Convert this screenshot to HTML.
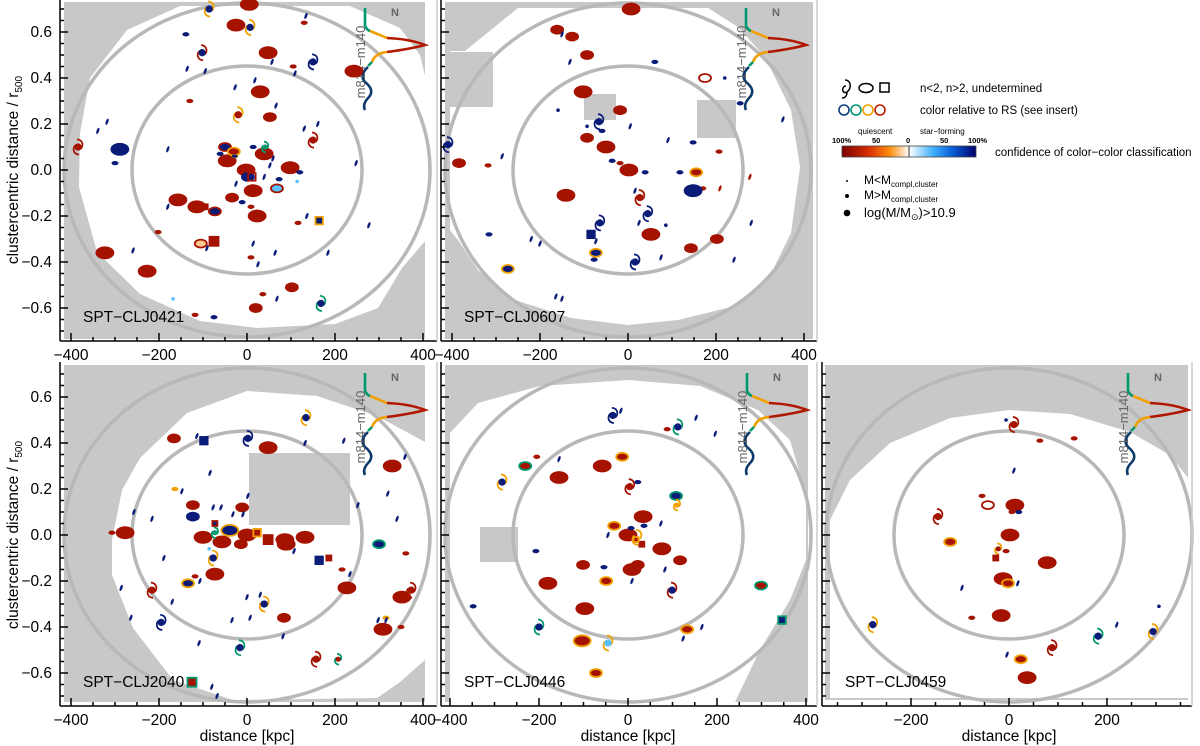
<!DOCTYPE html>
<html><head><meta charset="utf-8"><style>
html,body{margin:0;padding:0;background:#fff;}
svg{display:block;font-family:"Liberation Sans",sans-serif;}
</style></head><body>
<svg id="fig" width="1200" height="746" viewBox="0 0 1200 746" xmlns="http://www.w3.org/2000/svg">
<defs>
<linearGradient id="cbar" x1="0" x2="1" y1="0" y2="0">
<stop offset="0" stop-color="#7a0000"/><stop offset="0.2" stop-color="#d83000"/><stop offset="0.36" stop-color="#ff9010"/><stop offset="0.5" stop-color="#ffffff"/>
<stop offset="0.5" stop-color="#ffffff"/><stop offset="0.68" stop-color="#40b0ff"/><stop offset="0.82" stop-color="#0a60d8"/><stop offset="1" stop-color="#00006a"/>
</linearGradient>
</defs>
<g id="panels"></g>
<g id="legend">
  <path d="M845,80 C851,80 852,88 847,92 C842,95 841,86 846,86 M847,92 C847,96 845,98 842,98" fill="none" stroke="#000" stroke-width="1.5"/>
  <ellipse cx="866" cy="88" rx="7" ry="4.5" fill="none" stroke="#000" stroke-width="1.5"/>
  <rect x="880" y="83" width="9" height="9" fill="none" stroke="#000" stroke-width="1.5"/>
  <text x="920" y="92" font-size="11.5">n&lt;2, n&gt;2, undetermined</text>
  <circle cx="844" cy="110" r="5" fill="none" stroke="#0c3f78" stroke-width="1.6"/>
  <circle cx="856" cy="110" r="5" fill="none" stroke="#00986e" stroke-width="1.6"/>
  <circle cx="868" cy="110" r="5" fill="none" stroke="#f0a000" stroke-width="1.6"/>
  <circle cx="880" cy="110" r="5" fill="none" stroke="#c01800" stroke-width="1.6"/>
  <text x="920" y="114" font-size="11.5">color relative to RS (see insert)</text>
  <text x="858" y="134" font-size="8">quiescent</text>
  <text x="920" y="134" font-size="8">star−forming</text>
  <text x="832" y="143" font-size="7.5" font-weight="bold">100%</text>
  <text x="872" y="143" font-size="7.5" font-weight="bold">50</text>
  <text x="906" y="143" font-size="7.5" font-weight="bold">0</text>
  <text x="940" y="143" font-size="7.5" font-weight="bold">50</text>
  <text x="968" y="143" font-size="7.5" font-weight="bold">100%</text>
  <rect x="842" y="146" width="134" height="11" fill="url(#cbar)" stroke="#444" stroke-width="0.8"/>
  <line x1="909" y1="146" x2="909" y2="157" stroke="#333" stroke-width="1"/>
  <text x="995" y="156" font-size="11.5">confidence of color−color classification</text>
  <circle cx="847" cy="181" r="1" fill="#000"/>
  <text x="864" y="184" font-size="12">M&lt;M<tspan font-size="8" dy="3">compl,cluster</tspan></text>
  <circle cx="847" cy="196" r="2" fill="#000"/>
  <text x="864" y="199" font-size="12">M&gt;M<tspan font-size="8" dy="3">compl,cluster</tspan></text>
  <circle cx="847" cy="213" r="3.3" fill="#000"/>
  <text x="864" y="217" font-size="13">log(M/M<tspan font-size="9" dy="3">⊙</tspan><tspan dy="-3">)&gt;10.9</tspan></text>
</g>
</svg>
<script>
// ---------- data (kpc, r500) ----------
const p1X = [5,-25,48,243,30,39,-45,98,-2,14,-157,-114,23,-323,-227, -289, 52,-34,102,20, -73,-50,2,-30,-28,68,-105, 130,-130,-202,9,9,36,-118,116,105, -300,14,-61,120,73,-11,-75,-139, 114,-168, 134,-136,-95,57,109,-27,18,66,-318,-339,-180,130,161,59,52,39,-25,248,-180,136,277,14,-91,-259,64,25,184,68, -86,7,-102,150,-20,150,-384,168,41, -75,164,-95,11];
const p1Y = [.72,.63,.51,.43,.34,.07,.04,.01,0,-.09,-.13,-.16,-.2,-.36,-.44, .09, .23,-.12,-.51,-.6, -.18,.10,-.03,.08,.06,-.08,-.32, .64,.30,-.27,-.16,-.38,-.54,-.63,-.23,.45, .03,.1,.07,-.01,-.04,-.14,-.64,.59, -.05,-.56, .67,.44,.43,.47,.42,.36,.39,.28,.21,.17,.09,.18,.2,.05,.02,-.03,-.06,.03,-.16,-.2,-.24,-.32,-.34,-.35,-.36,-.41,-.36,-.56, .70,.62,.51,.47,.24,.13,.10,-.58,.1, -.31,-.22,-.16,-.03];
const p1K = [].concat(rep(15,'eL r r'),['eL n n'],rep(4,'eM r r'),['eM n r','eM n r','eM n n','eM r o','eS n o','eM b r','eM p r'],rep(9,'eS r r'),rep(8,'eS n n'),rep(2,'o b b'),rep(28,'d n n'),['sL n o','sL n o','sL n r','sL n n','sL r o','sL r r','sL r r','sL n g','sS g g','qL r r','qM n o','qS r r','qM w r']);

const p2X = [7,-102,-50,2,-141,52,-384, -161,-127,-93,-18,-93,143,202, -318,-18,207,170, 175, 155,-73,-273, 148, -409,-66,45,-64,16,27, -84, 61,-59,-36,39,118,148,-316,255,-77, 220,-159,-93,86, -150,-132,-286,5,91,16,25,-73,-220,-200,75,241,280,352,-164,-150, 277,209];
const p2Y = [.70,.34,.10,0,-.11,-.28,.03, .61,.58,.50,.26,.14,-.34,-.30, .02,.03,.08,-.08, .40, -.01,-.36,-.43, -.09, .11,.21,-.19,-.23,-.40,-.12, -.28, .47,.17,.04,-.01,-.01,.12,-.28,.29,-.39, .40,.26,.19,-.24, .59,.47,.06,.19,.13,-.09,-.23,-.31,-.30,-.32,-.38,-.39,-.23,.22,-.55,-.56, -.03,-.08];
const p2K = [].concat(rep(6,'eL r r'),['eM r r'],rep(7,'eM r r'),rep(4,'eS r r'),['eM w r','eM r o','eM n o','eM n o','eL n n'],rep(5,'sL n n'),['sL r r','qM n n'],rep(9,'eS n n'),rep(4,'o n n'),rep(16,'d n n'),['d r r','d r r']);

const p3X = [-166,48,330,-123,-11,-277,-100,-57,0,-14,86,132,89,-73,227,352,84,309, -123,-39,-134,300, -307,-118,361,216,350,-164,316, 134,2,-73,-77,-216,39,-195,-16,157,207,373, -98,-73,23,48,164,186,-125, -114,-84,220,132,359,320,252,341,-148,2,-77,-59,-32,-9,-257,-216,-189,107,234,-107,-286,-170,0,30,-264,-34,7,298,316,82,-109,-80,-68, -86];
const p3Y = [.42,.38,.30,.13,.12,.01,-.01,-.03,0,-.04,-.02,-.01,-.04,-.17,-.23,-.27,-.36,-.41, .08,.02,-.21,-.04, .01,-.18,-.08,-.15,-.4,.2,-.36, .51,.42,.01,-.1,-.24,-.3,-.38,-.49,-.54,-.54,-.24, .41,.05,.01,-.02,-.11,-.1,-.64, .43,.27,.41,.4,.34,.18,.13,.07,.19,.17,.12,.12,.09,.09,.1,.07,-.1,-.07,-.17,-.2,-.23,-.29,-.27,-.26,-.36,-.37,-.36,-.37,-.37,-.44,-.47,-.66,-.7, -.06];
const p3K = [].concat(['eM r r','eL r r','eL r r','eM r r','eM r r','eL r r','eL r r','eL r r','eL r r','eM r r','eL r r','eL r r','eL r r','eL r r','eL r r','eL r r','eM r r','eL r r'],['eM n n','eL n o','eM n o','eM n g'],rep(5,'eS r r'),['eS o o','eS o o'],['sL n o','sL n n','sS g g','sL n o','sL r r','sL n o','sL n n','sL n g','sL r r','sS r g','sL r r'],['qM n n','qS n r','qM r o','qL r r','qM n n','qS r r','qL r g'],rep(33,'d n n'),['o b b']);

const p4X = [-58,-155,34,0,76,9,-180,-97, 117,-101,22, -13,-31,-49,133,-103,-72, -231,108,299, -205,88, 22,7,36,-207,-54,-348, -16,153,196,-155,74,-45,83,9,166,124, -34,112,-283,4,110,99,-200,-45,20, 31,18,346];
const p4Y = [.30,.25,.08,0,-.06,-.15,-.21,-.32, -.11,-.13,-.13, .34,.04,-.2,-.41,-.46,-.6, .3,.17,-.22, .34,.46, .23,.03,.04,-.07,-.14,-.31, .54,.51,.44,.33,.05,0,-.15,-.2,-.4,-.45, .52,.47,.23,.21,.13,-.24,-.4,-.47,-.01, -.04,-.02,-.37];
const p4K = [].concat(rep(8,'eL r r'),rep(3,'eM r r'),['eM r o','eM r o','eM r o','eM r o','eL r o','eM r o'],['eM r g','eM n g','eM r g'],rep(2,'eS r r'),rep(6,'eS n n'),rep(10,'d n n'),['sL n n','sL n g','sL n o','sL r r','sS o o','sL n r','sL n g','sL b o','sL w o'],['qS r r','qS r o','qM n g']);

const p5X = [12,2,78,-12,-16,37, -120,-2,24, -43, 63,133,-55,6,-6,-76, 20, -6,306, 10,18,-96,220,-4, 10,-145,-22,-278,182,294,88, -27];
const p5Y = [.13,0,-.12,-.19,-.35,-.62, -.03,-.21,-.54, .13, .41,.42,.17,.1,-.07,-.36, .1, .5,-.31, .28,-.21,-.23,-.39,-.52, .48,.08,-.06,-.39,-.44,-.42,-.49, -.1];
const p5K = [].concat(rep(6,'eL r r'),rep(3,'eM r o'),['eM w r'],rep(6,'eS r r'),['eS n n','o n n','o n n'],rep(5,'d n n'),['sL r r','sL r r','sS r o','sL n o','sL n g','sL n o','sL r r'],['qS r r']);

const panelNames = ['SPT−CLJ0421','SPT−CLJ0607','SPT−CLJ2040','SPT−CLJ0446','SPT−CLJ0459'];
const xTicksWide = [-400,-200,0,200,400];
const xTicksNarrow = [-200,0,200];
const yTicks = [-0.6,-0.4,-0.2,0,0.2,0.4,0.6];

function rep(n,s){return Array(n).fill(s);}
// ---------- layout ----------
const COL = {r:'#a51300', n:'#0a1c78', o:'#f0a000', g:'#00986e', b:'#58c0ff', p:'#ffc88c', w:'none'};
const panels = [
 {id:'p1',x0:247,y0:170,sx:0.44,left:60,right:437,top:0,bottom:341,xt:xTicksWide,ylab:true,xtitle:false,X:p1X,Y:p1Y,K:p1K,
  gray:[64,2,425,339], white:'M180,6 L350,6 L400,28 L420,55 L426,80 L426,240 L402,268 L378,308 L335,324 L257,328 L200,321 L140,294 L97,252 L79,187 L80,133 L90,78 L127,30 Z', patches:[], ring:[183,167,115,104], anchor:[425,0]},
 {id:'p2',x0:628,y0:170,sx:0.44,left:441,right:817,top:0,bottom:341,xt:xTicksWide,ylab:false,xtitle:false,X:p2X,Y:p2Y,K:p2K,
  gray:[445,2,813,339], white:'M465,51 L518,8 L708,8 L738,27 L765,57 L791,110 L800,167 L791,233 L768,280 L731,307 L678,320 L628,325 L571,318 L515,300 L478,270 L458,240 L450,230 L450,51 Z', patches:[[450,52,493,107],[584,94,616,120],[697,100,736,138]], ring:[183,167,115,104], anchor:[806,0]},
 {id:'p3',x0:247,y0:535,sx:0.44,left:60,right:437,top:362,bottom:706,xt:xTicksWide,ylab:true,xtitle:true,X:p3X,Y:p3Y,K:p3K,
  gray:[64,365,425,702], white:'M112,540 L122,490 L140,458 L187,413 L247,391 L317,396 L377,416 L425,442 L425,660 L400,682 L377,698 L233,700 L173,680 L133,628 L112,575 Z', patches:[[249,453,350,525]], ring:[183,167,115,104], anchor:[425,365]},
 {id:'p4',x0:628,y0:535,sx:0.445,left:441,right:817,top:362,bottom:706,xt:xTicksWide,ylab:false,xtitle:true,X:p4X,Y:p4Y,K:p4K,
  gray:[445,365,808,702], white:'M450,433 L478,403 L540,386 L628,380 L700,386 L758,410 L790,440 L806,495 L806,560 L790,600 L760,650 L735,702 L450,702 Z', patches:[[480,527,518,562]], ring:[183,167,115,104], anchor:[807,365]},
 {id:'p5',x0:1009,y0:535,sx:0.49,left:822,right:1192,top:362,bottom:706,xt:xTicksNarrow,ylab:false,xtitle:true,X:p5X,Y:p5Y,K:p5K,
  gray:[825,365,1188,700], white:'M830,520 L850,480 L890,443 L950,418 L1009,410 L1070,414 L1130,432 L1170,455 L1188,478 L1188,698 L830,698 Z', patches:[], ring:[183,167,115,104], anchor:[1188,365]}
];

const NS='http://www.w3.org/2000/svg';
function mk(tag,attrs,parent){const e=document.createElementNS(NS,tag);for(const k in attrs)e.setAttribute(k,attrs[k]);parent.appendChild(e);return e;}

const root=document.getElementById('panels');
panels.forEach((P,pi)=>{
  const sx=v=>P.x0+v*P.sx;
  const sy=v=>P.y0-v*230;
  const g=mk('g',{},root);
  
  
  const bg=mk('rect',{x:P.gray[0],y:P.gray[1],width:P.gray[2]-P.gray[0],height:P.gray[3]-P.gray[1],fill:'#c8c8c8'},g);
  
  
  const wh=mk('path',{d:P.white,fill:'#fff'},g);
  
  
  P.patches.forEach(r=>{
    const pr=mk('rect',{x:r[0],y:r[1],width:r[2]-r[0],height:r[3]-r[1],fill:'#c8c8c8'},g);
    
    
  });
  const ro=mk('ellipse',{cx:P.x0,cy:P.y0,rx:P.ring[0],ry:P.ring[1],fill:'none',stroke:'#b8b8b8','stroke-width':3.5},g);
  
  
  const ri=mk('ellipse',{cx:P.x0,cy:P.y0,rx:P.ring[2],ry:P.ring[3],fill:'none',stroke:'#b8b8b8','stroke-width':3.5},g);
  
  
  const [R,T]=P.anchor;
  const ig=mk('g',{},g);
  
  
  const segs=[
   ['#00986e',`M${R-60},${T+8} L${R-60},${T+26} Q${R-58},${T+30} ${R-55},${T+31}`],
   ['#f0a000',`M${R-55},${T+31} Q${R-45},${T+35} ${R-38},${T+38}`],
   ['#b01800',`M${R-38},${T+38} Q${R-15},${T+39} ${R},${T+45} Q${R-15},${T+49} ${R-38},${T+52}`],
   ['#f0a000',`M${R-38},${T+52} Q${R-50},${T+53} ${R-53},${T+62}`],
   ['#00986e',`M${R-53},${T+62} L${R-57},${T+66}`],
   ['#0c3a6a',`M${R-57},${T+67} Q${R-66},${T+75} ${R-60},${T+82} Q${R-50},${T+90} ${R-56},${T+97} Q${R-63},${T+104} ${R-60},${T+110}`]
  ];
  segs.forEach(s=>mk('path',{d:s[1],fill:'none',stroke:s[0],'stroke-width':2.6},ig));
  const it=mk('text',{x:0,y:0,transform:`translate(${R-60},${T+62}) rotate(-90)`,'text-anchor':'middle','font-size':13,fill:'#666'},g);
  it.textContent='m814−m140';
  
  
  const nt=mk('text',{x:R-34,y:T+16,'font-size':11,'font-weight':'bold',fill:'#666'},g);
  nt.textContent='N';
  
  
  const mg=mk('g',{},g);
  
  
  P.X.forEach((xv,i)=>{
    const spec=(P.K[i]||'d n n').split(' ');
    const kind=spec[0], fill=COL[spec[1]], edge=COL[spec[2]];
    const cx=sx(xv), cy=sy(P.Y[i]);
    let el;
    if(kind[0]==='e'){
      const sz={L:[8.5,5.5],M:[6,4],S:[3.3,1.9]}[kind[1]];
      el=mk('ellipse',{cx:cx,cy:cy,rx:sz[0],ry:sz[1],fill:fill,stroke:edge,'stroke-width':kind[1]==='S'?0.5:1.8},mg);
    } else if(kind==='d'){
      el=mk('ellipse',{cx:cx,cy:cy,rx:1.3,ry:3.3,fill:fill,transform:`rotate(20 ${cx} ${cy})`},mg);
    } else if(kind==='o'){
      el=mk('circle',{cx:cx,cy:cy,r:1.8,fill:fill},mg);
    } else if(kind[0]==='s'){
      const s=kind[1]==='L'?0.85:0.6;
      el=mk('g',{},mg);
      mk('path',{d:`M${cx-1},${cy-9*s} C${cx+7*s},${cy-8*s} ${cx+6*s},${cy} ${cx+3*s},${cy+2*s} M${cx+1},${cy+9*s} C${cx-7*s},${cy+8*s} ${cx-6*s},${cy} ${cx-3*s},${cy-2*s}`,fill:'none',stroke:edge,'stroke-width':1.8},el);
      if(fill!=='none') mk('circle',{cx:cx,cy:cy,r:4.3*s,fill:fill},el);
    } else {
      const h={L:9,M:7.5,S:5}[kind[1]];
      el=mk('rect',{x:cx-h/2,y:cy-h/2,width:h,height:h,fill:fill,stroke:edge,'stroke-width':1.8},mg);
    }
    
    
  });
  const nm=mk('text',{x:P.left+23,y:P.y0+152,'font-size':15.5,fill:'#000'},g);
  nm.textContent=panelNames[pi];
  
  
  const ax=mk('g',{stroke:'#000','stroke-width':1.5},g);
  
  
  mk('line',{x1:P.left,y1:P.top,x2:P.left,y2:P.bottom},ax);
  mk('line',{x1:P.left,y1:P.bottom,x2:P.right,y2:P.bottom},ax);
  mk('line',{x1:P.right,y1:P.top,x2:P.right,y2:P.bottom,stroke:'#ccc','stroke-width':1.5},ax);
  for(let v=-0.7;v<=0.7001;v+=0.05){
    const y=sy(v); if(y<P.top||y>P.bottom)continue;
    const major=Math.abs(Math.round(v*100)%20)===0;
    mk('line',{x1:P.left,y1:y,x2:P.left+(major?8:4),y2:y},ax);
  }
  for(let v=-450;v<=450;v+=50){
    const x=sx(v); if(x<P.left||x>P.right)continue;
    const major=v%200===0;
    mk('line',{x1:x,y1:P.bottom,x2:x,y2:P.bottom-(major?8:4)},ax);
  }
  P.xt.forEach(t=>{
    const tx=mk('text',{x:sx(t),y:P.bottom+19,'text-anchor':'middle','font-size':15.5},g);
    tx.textContent=t<0?'−'+Math.abs(t):String(t);
    
    
  });
  if(P.ylab){
    yTicks.forEach(t=>{
      const ty=mk('text',{x:P.left-8,y:sy(t)+5,'text-anchor':'end','font-size':15.5},g);
      ty.textContent=(t<0?'−':'')+Math.abs(t).toFixed(1);
      
      
    });
    const yt=mk('text',{transform:`translate(18,${P.y0}) rotate(-90)`,'text-anchor':'middle','font-size':15.5},g);
    yt.innerHTML='clustercentric distance  /  r<tspan font-size="10" dy="4">500</tspan>';
    
    
  }
  if(P.xtitle){
    const xt=mk('text',{x:P.x0,y:741,'text-anchor':'middle','font-size':15.5},g);
    xt.textContent='distance [kpc]';
    
    
  }
});
</script>
</body></html>
